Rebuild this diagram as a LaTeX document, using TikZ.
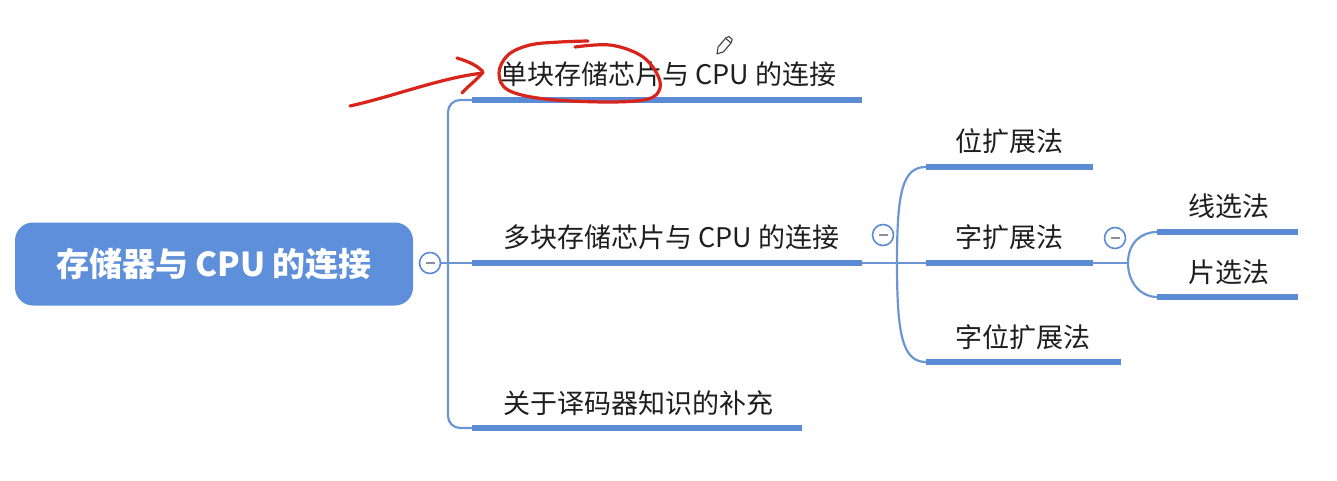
\documentclass[tikz,border=0pt]{standalone}
\usepackage{fontspec}
\newfontfamily\cjk{Noto Sans CJK SC}
\definecolor{barblue}{HTML}{5B8BD4}
\definecolor{rootblue}{HTML}{5E8FDA}
\definecolor{linkblue}{HTML}{6C96D3}
\definecolor{ink}{HTML}{1E1E1E}
\definecolor{minusgray}{HTML}{8A90A2}
\definecolor{annored}{HTML}{D8241B}
\begin{document}
\begin{tikzpicture}[x=1pt,y=-1pt,
  rootbox/.style={fill=rootblue, rounded corners=18pt, minimum width=398pt,
    minimum height=83pt, inner sep=0pt, text=white,
    font=\cjk\bfseries\fontsize{33}{37}\selectfont},
  branchbar/.style={fill=barblue, inner sep=0pt, minimum height=6pt, anchor=west},
  branchtext/.style={font=\cjk\fontsize{27}{30}\selectfont, text=ink,
    anchor=west, inner sep=0pt},
  link/.style={draw=linkblue, line width=2.2pt},
  foldmark/.style={circle, draw=barblue, line width=1.6pt, fill=white,
    minimum size=21pt, inner sep=0pt},
  minusbar/.style={draw=minusgray, line width=1.8pt},
  redpen/.style={draw=annored, line width=3.2pt, line cap=round, line join=round},
  pencil/.style={draw=black!75, line width=1.1pt, line join=round}]
\useasboundingbox (0,0) rectangle (1337,481);

% root topic
\node[rootbox] (root) at (214,264) {存储器与 CPU 的连接};
\node[foldmark] (c1) at (430,263) {};
\draw[minusbar] ([xshift=-4.5pt]c1.center) -- ([xshift=4.5pt]c1.center);
\coordinate (j1) at (448,263);

% first level
\node[branchbar, minimum width=390pt] (b1) at (472,100) {};
\node[branchbar, minimum width=390pt] (b2) at (472,263) {};
\node[branchbar, minimum width=330pt] (b3) at (472,428) {};
\node[branchtext] (t1) at (500,74) {单块存储芯片与 CPU 的连接};
\node[branchtext] (t2) at (503,237) {多块存储芯片与 CPU 的连接};
\node[branchtext] (t3) at (503,403) {关于译码器知识的补充};

\draw[link] (c1.east) -- (j1);
\draw[link, rounded corners=12pt] (j1) |- (b1.west);
\draw[link] (j1) -- (b2.west);
\draw[link, rounded corners=12pt] (j1) |- (b3.west);

% second level
\node[foldmark] (c2) at (883,235) {};
\draw[minusbar] ([xshift=-4.5pt]c2.center) -- ([xshift=4.5pt]c2.center);
\coordinate (j2) at (897,263);
\node[branchbar, minimum width=167pt] (s1) at (926,167) {};
\node[branchbar, minimum width=167pt] (s2) at (926,263) {};
\node[branchbar, minimum width=195pt] (s3) at (926,362) {};
\node[branchtext] (u1) at (955,141) {位扩展法};
\node[branchtext] (u2) at (955,237) {字扩展法};
\node[branchtext] (u3) at (955,337) {字位扩展法};

\draw[link] (b2.east) -- (j2) -- (s2.west);
\draw[link] (j2) .. controls +(0,-70) and +(-24,0) .. (s1.west);
\draw[link] (j2) .. controls +(0,70) and +(-24,0) .. (s3.west);

% third level
\node[foldmark] (c3) at (1115,238) {};
\draw[minusbar] ([xshift=-4.5pt]c3.center) -- ([xshift=4.5pt]c3.center);
\coordinate (j3) at (1128,263);
\node[branchbar, minimum width=141pt] (w1) at (1157,232) {};
\node[branchbar, minimum width=141pt] (w2) at (1157,297) {};
\node[branchtext] (v1) at (1188,206) {线选法};
\node[branchtext] (v2) at (1188,272) {片选法};

\draw[link] (s2.east) -- (j3);
\draw[link] (j3) .. controls +(0,-20) and +(-16,0) .. (w1.west);
\draw[link] (j3) .. controls +(0,20) and +(-16,0) .. (w2.west);

% hand-drawn red arrow and loop
\draw[redpen] (350,106) .. controls (395,96) and (440,78) .. (483,73);
\draw[redpen] (457,58) .. controls (470,62) and (478,66) .. (483,72)
  .. controls (477,80) and (468,86) .. (462,93);
\draw[redpen] plot[smooth, tension=0.6] coordinates {(575,47) (610,45) (640,55)
  (656,72) (660,88) (648,99) (608,102) (545,99) (508,90) (499,73) (508,55)
  (530,45) (560,42) (588,41)};

% pencil cursor
\begin{scope}[shift={(717,54)}, rotate=50]
  \draw[pencil] (0,0) -- (6,-3.6) -- (18,-3.6) -- (21,-2.2) -- (21,2.2) -- (18,3.6)
    -- (6,3.6) -- cycle;
  \draw[pencil] (17.5,-3.6) -- (17.5,3.6);
\end{scope}
\end{tikzpicture}
\end{document}
